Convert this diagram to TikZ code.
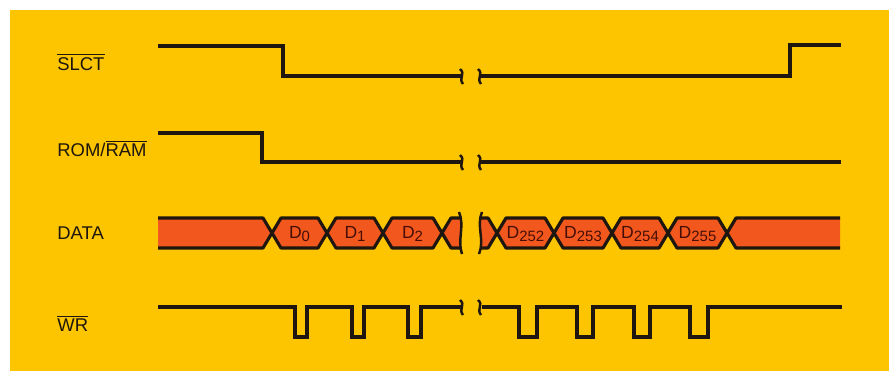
\documentclass[tikz,border=0pt]{standalone}
\usepackage{fontspec}
\setmainfont{Liberation Sans}
\usetikzlibrary{positioning}
\definecolor{ChartYellow}{RGB}{253, 197, 0}
\definecolor{BusRed}{RGB}{242, 88, 30}
\definecolor{InkBlack}{RGB}{30, 22, 15}
\definecolor{InkRed}{RGB}{70, 14, 6}

\newcommand{\ovl}[1]{$\overline{\mbox{#1}}$}
\newcommand{\dsub}[1]{D\raisebox{-2.2pt}{\fontsize{8.5}{10}\selectfont #1}}
% one data hexagon: name, from, to, label
\newcommand{\datacell}[4]{%
  \draw[bus] (#2,233) -- ({#2+9},218) -- ({#3-9},218) -- (#3,233) -- ({#3-9},248) -- ({#2+9},248) -- cycle;
  \node[celllabel] (#1) at ({(#2+#3)/2},234) {#4};}
% break mark on a line
\newcommand{\breakmark}[2]{%
  \draw[signal, line width=1.4pt] ({#1-2},{#2-7}) .. controls ({#1+4},{#2-2}) and ({#1-4},{#2+2}) .. ({#1+1},{#2+8});}

\begin{document}
\begin{tikzpicture}[x=0.02cm, y=-0.02cm,
    signal/.style={draw=InkBlack, line width=2pt, line join=miter},
    bus/.style={draw=InkBlack, fill=BusRed, line width=1.8pt, line join=round},
    siglabel/.style={font=\fontsize{10.5}{12}\selectfont, text=InkBlack, anchor=west, inner sep=0pt},
    celllabel/.style={font=\fontsize{10}{12}\selectfont, text=InkRed, inner sep=0pt}
]

% Background
\useasboundingbox (0,0) rectangle (889,371);
\fill[white] (0,0) rectangle (889,371);
\fill[ChartYellow] (10,10) rectangle (889,371);

% Signal names
\node[siglabel] (slct) at (57,62) {\ovl{SLCT}};
\node[siglabel] (romram) at (57,148) {ROM/\ovl{RAM}};
\node[siglabel] (data) at (57,233) {DATA};
\node[siglabel] (wr) at (57,323) {\ovl{WR}};

% SLCT
\draw[signal] (158,46) -- (283,46) -- (283,76) -- (461,76);
\draw[signal] (481,76) -- (790,76) -- (790,45) -- (841,45);
\breakmark{462}{76}
\breakmark{480}{76}

% ROM/RAM
\draw[signal] (158,133) -- (262,133) -- (262,162) -- (461,162);
\draw[signal] (481,162) -- (841,162);
\breakmark{462}{162}
\breakmark{480}{162}

% DATA bus
\fill[BusRed] (158,218) -- (263,218) -- (272,233) -- (263,248) -- (158,248) -- cycle;
\draw[bus, fill=none] (158,218) -- (263,218) -- (272,233) -- (263,248) -- (158,248);
\datacell{d0}{272}{327}{\dsub{0}}
\datacell{d1}{327}{383}{\dsub{1}}
\datacell{d2}{383}{442}{\dsub{2}}
\fill[BusRed] (442,233) -- (451,218) -- (460,218) .. controls (464,228) and (458,238) .. (461,248) -- (451,248) -- cycle;
\draw[bus, fill=none] (460,218) -- (451,218) -- (442,233) -- (451,248) -- (461,248);
\draw[signal, line width=1.4pt] (459,212) .. controls (465,226) and (457,240) .. (462,254);
\fill[BusRed] (481,218) .. controls (478,228) and (484,238) .. (481,248) -- (488,248) -- (497,233) -- (488,218) -- cycle;
\draw[bus, fill=none] (481,218) -- (488,218) -- (497,233) -- (488,248) -- (481,248);
\draw[signal, line width=1.4pt] (482,212) .. controls (476,226) and (485,240) .. (479,254);
\datacell{d252}{497}{554}{\dsub{252}}
\datacell{d253}{554}{612}{\dsub{253}}
\datacell{d254}{612}{668}{\dsub{254}}
\datacell{d255}{668}{727}{\dsub{255}}
\fill[BusRed] (727,233) -- (736,218) -- (840,218) -- (840,248) -- (736,248) -- cycle;
\draw[bus, fill=none] (840,218) -- (736,218) -- (727,233) -- (736,248) -- (840,248);

% WR strobes
\draw[signal] (158,307) foreach \a/\b in {295/307, 352/364, 408/421} { -- (\a,307) -- (\a,337) -- (\b,337) -- (\b,307) } -- (461,307);
\draw[signal] (482,307) foreach \a/\b in {519/537, 577/593, 634/650, 690/708} { -- (\a,307) -- (\a,337) -- (\b,337) -- (\b,307) } -- (842,307);
\breakmark{462}{307}
\breakmark{480}{307}

\end{tikzpicture}
\end{document}
